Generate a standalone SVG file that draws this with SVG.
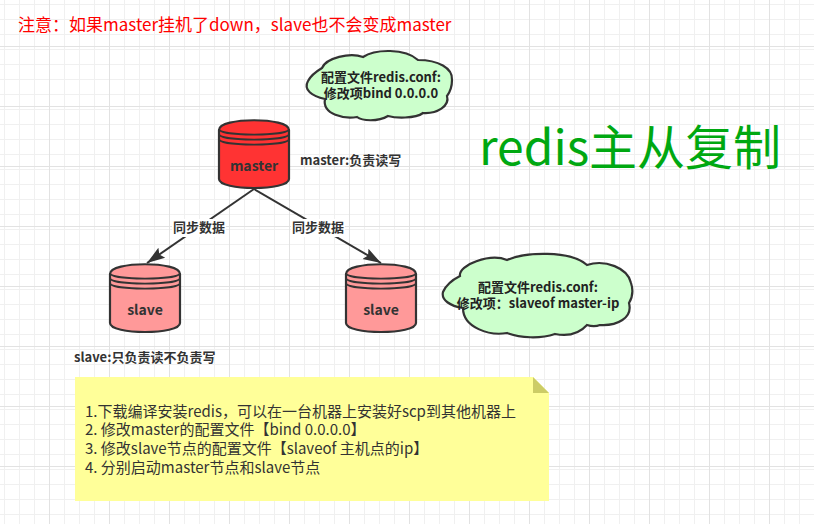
<svg xmlns="http://www.w3.org/2000/svg" width="814" height="524" viewBox="0 0 814 524">
<defs>
<pattern id="minor" x="-3" y="-3" width="15" height="15" patternUnits="userSpaceOnUse"><path d="M7.5 0V15M0 7.5H15" fill="none" stroke="#f0f0f0" stroke-width="1"/></pattern>
<pattern id="major" x="19" y="16" width="60" height="60" patternUnits="userSpaceOnUse"><path d="M30.5 0V60M0 30.5H60" fill="none" stroke="#e2e2e2" stroke-width="1"/></pattern>
<marker id="arrow" markerUnits="userSpaceOnUse" markerWidth="20" markerHeight="16" refX="18" refY="8" orient="auto"><path d="M0 2L18 8L0 14L3 8Z" fill="#333"/></marker>
<g id="cyl">
<path d="M0 10C0 -3 70 -3 70 10V59C70 71 0 71 0 59Z"/>
<path fill="none" stroke-width="1.8" d="M0 9C0 16.5 70 16.5 70 9M0 14C0 21.5 70 21.5 70 14M0 19C0 26.5 70 26.5 70 19"/>
</g>
</defs>
<style>
text{font-family:"Noto Sans CJK SC","Noto Sans",sans-serif}
.b{font-weight:700;font-size:13px;fill:#333;text-anchor:middle}
.l{font-weight:700;font-size:13px;fill:#333}
.c{font-weight:700;font-size:13px;fill:#222;text-anchor:middle}
.n{font-size:15px;fill:#333}
.cy{stroke:#333;stroke-width:2.2}
.cl{fill:#ccffcc;stroke:#333;stroke-width:2.2}
.e{fill:none;stroke:#333;stroke-width:2}
</style>
<rect width="814" height="524" fill="#fff"/>
<rect width="814" height="524" fill="url(#minor)"/>
<rect width="814" height="524" fill="url(#major)"/>
<text x="18" y="31" font-size="17" fill="#ff0000">注意：如果master挂机了down，slave也不会变成master</text>
<text x="479" y="165" font-size="48" fill="#00a811">redis主从复制</text>
<g id="connectors">
<path class="e" d="M254 189L147 263" marker-end="url(#arrow)"/>
<path class="e" d="M254 189L381 263" marker-end="url(#arrow)"/>
<rect x="172" y="219" width="54" height="18" fill="#fff"/>
<rect x="291" y="219" width="54" height="18" fill="#fff"/>
<text class="b" x="199" y="232">同步数据</text>
<text class="b" x="318" y="232">同步数据</text>
</g>
<g id="master"><use href="#cyl" x="219" y="120" class="cy" fill="#ff3333"/><text class="b" x="254" y="171" style="font-size:14px">master</text></g>
<g id="slave1"><use href="#cyl" x="110" y="264" class="cy" fill="#ff9999"/><text class="b" x="145" y="315" style="font-size:14px">slave</text></g>
<g id="slave2"><use href="#cyl" x="346" y="264" class="cy" fill="#ff9999"/><text class="b" x="381" y="315" style="font-size:14px">slave</text></g>
<g id="master-label"><text class="l" x="300" y="165">master:负责读写</text></g>
<g id="slave-label"><text class="l" x="74" y="362">slave:只负责读不负责写</text></g>
<g id="cloud1"><path class="cl" d="M322 68C326 58 350 52 363 57C375 49 405 48 418 60C438 60 453 68 452 80C452 87 450 92 447 96C450 106 437 114 423 113C415 119 395 118 388 116C378 122 362 121 357 117C345 119 322 115 325 99C312 96 303 90 308 81C311 75 317 71 322 68Z"/>
<text class="c" x="381" y="82">配置文件redis.conf:</text><text class="c" x="381" y="98">修改项bind 0.0.0.0</text></g>
<g id="cloud2"><path class="cl" d="M460 276C458 265 490 253 507 260C525 252 570 250 587 265C605 259 628 268 631 283C634 292 632 298 629 303C633 318 617 326 600 325C595 327 590 326 587 325C578 335 565 336 555 334C540 339 520 338 507 333C490 336 463 328 463 308C450 306 441 300 443 292C446 285 452 280 460 276Z"/>
<text class="c" x="538" y="292">配置文件redis.conf:</text><text class="c" x="538" y="308">修改项：slaveof master-ip</text></g>
<g id="note"><path d="M75 377H533L549 393V501H75Z" fill="#ffff99"/><path d="M533 377L549 393H533Z" fill="#cccc66"/>
<text class="n" x="85" y="417">1.下载编译安装redis，可以在一台机器上安装好scp到其他机器上</text>
<text class="n" x="85" y="435">2. 修改master的配置文件【bind 0.0.0.0】</text>
<text class="n" x="85" y="454">3. 修改slave节点的配置文件【slaveof 主机点的ip】</text>
<text class="n" x="85" y="473">4. 分别启动master节点和slave节点</text></g>
</svg>
